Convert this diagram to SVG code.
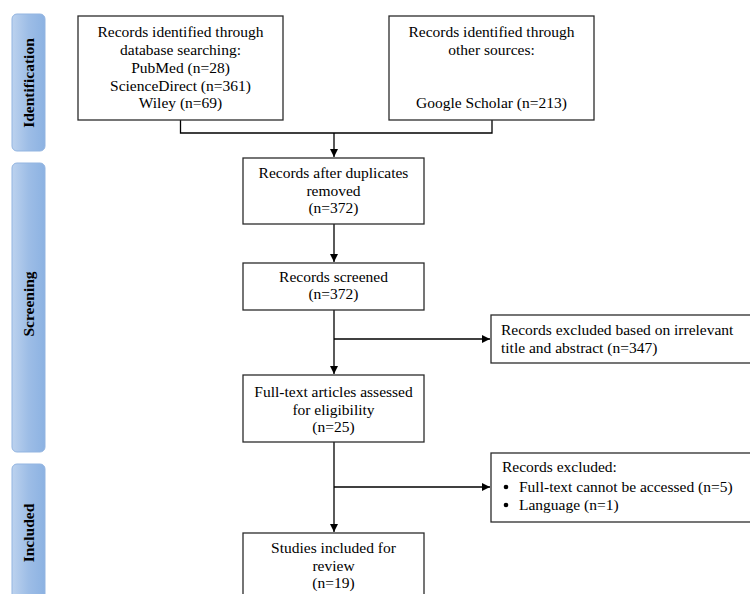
<svg xmlns="http://www.w3.org/2000/svg" width="750" height="594" viewBox="0 0 750 594">
<defs>
<linearGradient id="phase" x1="0" y1="0" x2="1" y2="0">
<stop offset="0" stop-color="#bcd2ee"/>
<stop offset="0.5" stop-color="#9dbde6"/>
<stop offset="1" stop-color="#8cb2e2"/>
</linearGradient>
<marker id="arr" viewBox="0 0 10 10" refX="10" refY="5" markerWidth="8" markerHeight="8" markerUnits="userSpaceOnUse" orient="auto">
<path d="M0,0 L10,5 L0,10 z" fill="#000"/>
</marker>
<style>
.box{fill:#fff;stroke:#2b2b2b;stroke-width:1.3}
.phase{fill:url(#phase);stroke:#93b5e1;stroke-width:1}
.t{font-family:"Liberation Serif","Times New Roman",serif;font-size:15.5px;fill:#000}
.c{text-anchor:middle}
.p{font-family:"Liberation Serif","Times New Roman",serif;font-size:15.5px;font-weight:bold;fill:#000;text-anchor:middle}
.ln{fill:none;stroke:#000;stroke-width:1.3}
</style>
</defs>
<rect width="750" height="594" fill="#fff"/>
<g id="phase-identification">
<rect class="phase" x="12" y="14" width="33" height="137" rx="5"/>
<text class="p" transform="translate(34,83) rotate(-90)">Identification</text>
</g>
<g id="phase-screening">
<rect class="phase" x="12" y="163" width="33" height="289" rx="5"/>
<text class="p" transform="translate(34,304) rotate(-90)">Screening</text>
</g>
<g id="phase-included">
<rect class="phase" x="12" y="464" width="33" height="140" rx="5"/>
<text class="p" transform="translate(34,533) rotate(-90)">Included</text>
</g>
<g id="connectors">
<polyline class="ln" points="180.5,120 180.5,133 492,133 492,120"/>
<line class="ln" x1="334" y1="133" x2="334" y2="157" marker-end="url(#arr)"/>
<line class="ln" x1="334" y1="224" x2="334" y2="262" marker-end="url(#arr)"/>
<line class="ln" x1="334" y1="310" x2="334" y2="374" marker-end="url(#arr)"/>
<line class="ln" x1="334" y1="339" x2="490" y2="339" marker-end="url(#arr)"/>
<line class="ln" x1="334" y1="442" x2="334" y2="532" marker-end="url(#arr)"/>
<line class="ln" x1="334" y1="487" x2="490" y2="487" marker-end="url(#arr)"/>
</g>
<g id="db-search">
<rect class="box" x="78" y="16" width="205" height="104"/>
<text class="t c" x="180.5" y="37">Records identified through</text>
<text class="t c" x="180.5" y="55">database searching:</text>
<text class="t c" x="180.5" y="73">PubMed (n=28)</text>
<text class="t c" x="180.5" y="90.5">ScienceDirect (n=361)</text>
<text class="t c" x="180.5" y="108">Wiley (n=69)</text>
</g>
<g id="other-sources">
<rect class="box" x="389" y="16" width="205" height="104"/>
<text class="t c" x="491.5" y="37">Records identified through</text>
<text class="t c" x="491.5" y="55">other sources:</text>
<text class="t c" x="491.5" y="108">Google Scholar (n=213)</text>
</g>
<g id="duplicates-removed">
<rect class="box" x="243" y="158" width="181" height="66"/>
<text class="t c" x="333.5" y="178">Records after duplicates</text>
<text class="t c" x="333.5" y="196">removed</text>
<text class="t c" x="333.5" y="213">(n=372)</text>
</g>
<g id="screened">
<rect class="box" x="243" y="263" width="181" height="47"/>
<text class="t c" x="333.5" y="282">Records screened</text>
<text class="t c" x="333.5" y="299">(n=372)</text>
</g>
<g id="excluded-title">
<rect class="box" x="491" y="315" width="270" height="48"/>
<text class="t" x="501" y="335">Records excluded based on irrelevant</text>
<text class="t" x="501" y="353">title and abstract (n=347)</text>
</g>
<g id="full-text">
<rect class="box" x="243" y="375" width="181" height="67"/>
<text class="t c" x="333.5" y="397">Full-text articles assessed</text>
<text class="t c" x="333.5" y="414.5">for eligibility</text>
<text class="t c" x="333.5" y="432">(n=25)</text>
</g>
<g id="excluded-fulltext">
<rect class="box" x="491" y="453" width="270" height="69"/>
<text class="t" x="502" y="472">Records excluded:</text>
<circle cx="506" cy="487" r="2.3" fill="#000"/>
<text class="t" x="519" y="492">Full-text cannot be accessed (n=5)</text>
<circle cx="506" cy="505" r="2.3" fill="#000"/>
<text class="t" x="519" y="510">Language (n=1)</text>
</g>
<g id="included">
<rect class="box" x="243" y="533" width="181" height="80"/>
<text class="t c" x="333.5" y="553">Studies included for</text>
<text class="t c" x="333.5" y="571">review</text>
<text class="t c" x="333.5" y="588">(n=19)</text>
</g>
</svg>
